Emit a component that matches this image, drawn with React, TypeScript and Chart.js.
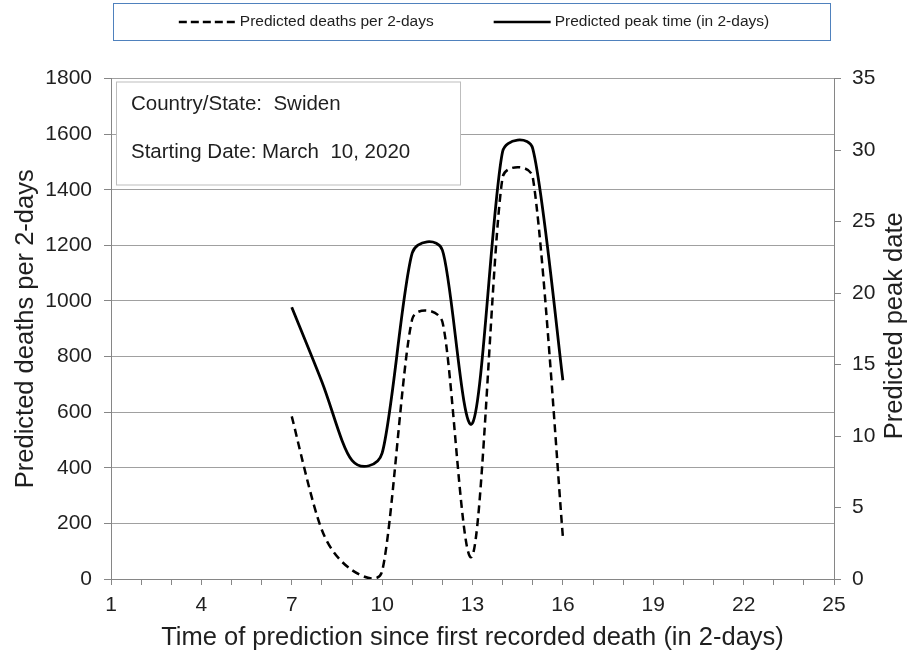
import React, { useEffect, useRef } from 'react';
import { Chart, registerables } from 'chart.js';

Chart.register(...registerables);

// ---- data ----
const xValues = [7, 8, 9, 10, 11, 12, 13, 14, 15, 16];
const predictedDeaths = [585, 176, 32, 28, 935, 925, 85, 1445, 1445, 152];
const predictedPeak = [19.0, 13.8, 8.3, 8.8, 22.8, 23.0, 10.9, 29.9, 30.1, 13.9];
const xTickLabels = [1, 4, 7, 10, 13, 16, 19, 22, 25];
const seriesNames = ['Predicted deaths per 2-days', 'Predicted peak time (in 2-days)'];
const infoLines = ['Country/State:  Swiden', 'Starting Date: March  10, 2020'];
const xTitle = 'Time of prediction since first recorded death (in 2-days)';
const leftTitle = 'Predicted deaths per 2-days';
const rightTitle = 'Predicted peak date';

const FONT = "'Liberation Sans', Arial, sans-serif";
const TEXT = '#1f1f1f';
const GRID = '#a0a0a0';
const AXIS = '#868686';

// Excel-like smoothing: Catmull-Rom tangents, arms capped by own segment length
const smoothPlugin = {
  id: 'excelSmooth',
  afterDatasetsUpdate(chart: any) {
    const CAP = 0.45;
    chart.data.datasets.forEach((_: any, di: number) => {
      const meta = chart.getDatasetMeta(di);
      const pts = meta.data;
      const n = pts.length;
      for (let i = 0; i < n; i++) {
        const cur = pts[i];
        const prev = pts[Math.max(0, i - 1)];
        const next = pts[Math.min(n - 1, i + 1)];
        const tx = (next.x - prev.x) / 6;
        const ty = (next.y - prev.y) / 6;
        const tl = Math.hypot(tx, ty) || 1;
        const ux = tx / tl, uy = ty / tl;
        const dPrev = Math.hypot(cur.x - prev.x, cur.y - prev.y);
        const dNext = Math.hypot(next.x - cur.x, next.y - cur.y);
        const aPrev = Math.min(tl, CAP * dPrev);
        const aNext = Math.min(tl, CAP * dNext);
        cur.cp1x = cur.x - ux * aPrev;
        cur.cp1y = cur.y - uy * aPrev;
        cur.cp2x = cur.x + ux * aNext;
        cur.cp2y = cur.y + uy * aNext;
      }
      if (meta.dataset) meta.dataset._pointsUpdated = true;
    });
  },
};

const decorPlugin = {
  id: 'decor',
  afterDraw(chart: any) {
    const { ctx, chartArea } = chart;
    const { left, right, top, bottom } = chartArea;
    ctx.save();
    // info box
    ctx.fillStyle = '#ffffff';
    ctx.strokeStyle = '#bdbdbd';
    ctx.lineWidth = 1;
    const bx = left + 5.5, by = top + 3.5, bw = 344, bh = 103;
    ctx.fillRect(bx, by, bw, bh);
    ctx.strokeRect(bx, by, bw, bh);
    ctx.fillStyle = TEXT;
    ctx.font = `20.5px ${FONT}`;
    ctx.textAlign = 'left';
    ctx.textBaseline = 'middle';
    ctx.fillText(infoLines[0], left + 20, top + 26);
    ctx.fillText(infoLines[1], left + 20, top + 74);

    // legend box
    const lx = left + 2.5, ly = 3.5, lw = right - left - 6, lh = 37;
    ctx.strokeStyle = '#4f81bd';
    ctx.strokeRect(lx, ly, lw, lh);
    ctx.font = `15.5px ${FONT}`;
    const t1 = ctx.measureText(seriesNames[0]).width;
    const t2 = ctx.measureText(seriesNames[1]).width;
    const sw = 57, gap = 4, itemGap = 60;
    const total = sw + gap + t1 + itemGap + sw + gap + t2;
    let cx = lx + lw / 2 + 2 - total / 2;
    const cy = ly + lh / 2;
    ctx.strokeStyle = '#000';
    ctx.lineWidth = 2.5;
    ctx.setLineDash([8, 4]);
    ctx.beginPath(); ctx.moveTo(cx, cy); ctx.lineTo(cx + sw, cy); ctx.stroke();
    ctx.setLineDash([]);
    ctx.fillStyle = TEXT;
    ctx.textBaseline = 'middle';
    ctx.fillText(seriesNames[0], cx + sw + gap, cy);
    cx += sw + gap + t1 + itemGap;
    ctx.beginPath(); ctx.moveTo(cx, cy); ctx.lineTo(cx + sw, cy); ctx.stroke();
    ctx.fillText(seriesNames[1], cx + sw + gap, cy);

    // axis titles (both rotated -90)
    ctx.font = `25.5px ${FONT}`;
    ctx.textAlign = 'center';
    ctx.textBaseline = 'alphabetic';
    const my = (top + bottom) / 2;
    ctx.save();
    ctx.translate(33, my);
    ctx.rotate(-Math.PI / 2);
    ctx.fillText(leftTitle, 0, 0);
    ctx.restore();
    ctx.save();
    ctx.translate(right + 68, my - 3);
    ctx.rotate(-Math.PI / 2);
    ctx.fillText(rightTitle, 0, 0);
    ctx.restore();
    ctx.restore();
  },
};

export default function App() {
  const ref = useRef<HTMLCanvasElement>(null);
  useEffect(() => {
    if (!ref.current) return;
    const chart = new Chart(ref.current, {
      type: 'line',
      data: {
        datasets: [
          {
            label: seriesNames[0],
            data: xValues.map((x, i) => ({ x, y: predictedDeaths[i] })),
            yAxisID: 'yL',
            borderColor: '#000',
            borderWidth: 2.5,
            borderDash: [8, 5],
            pointRadius: 0,
            tension: 0.4,
            fill: false,
          },
          {
            label: seriesNames[1],
            data: xValues.map((x, i) => ({ x, y: predictedPeak[i] })),
            yAxisID: 'yR',
            borderColor: '#000',
            borderWidth: 2.8,
            pointRadius: 0,
            tension: 0.4,
            fill: false,
          },
        ],
      },
      options: {
        responsive: false,
        animation: false,
        layout: { padding: { top: 78.5, left: 0, right: 0, bottom: 0 } },
        plugins: { legend: { display: false }, tooltip: { enabled: false } },
        scales: {
          x: {
            type: 'linear',
            min: 1,
            max: 25,
            afterFit: (s: any) => { s.height = 76; },
            grid: { drawOnChartArea: false, tickLength: 6, color: AXIS, tickColor: AXIS },
            border: { color: AXIS, width: 1 },
            ticks: {
              stepSize: 1,
              autoSkip: false,
              maxRotation: 0,
              padding: 8,
              color: TEXT,
              font: { family: FONT, size: 21 },
              callback: (v: any) => (xTickLabels.includes(Number(v)) ? String(v) : ''),
            },
            title: {
              display: true,
              text: xTitle,
              color: TEXT,
              font: { family: FONT, size: 25.5 },
              padding: { top: 0, bottom: 1.5 },
            },
          },
          yL: {
            type: 'linear',
            position: 'left',
            min: 0,
            max: 1800,
            afterFit: (s: any) => { s.width = 111; },
            grid: { color: GRID, tickLength: 7, tickColor: AXIS, lineWidth: 1 },
            border: { color: AXIS, width: 1 },
            ticks: {
              stepSize: 200,
              padding: 12,
              color: TEXT,
              font: { family: FONT, size: 21 },
              callback: (v: any) => String(v),
            },
          },
          yR: {
            type: 'linear',
            position: 'right',
            min: 0,
            max: 35,
            afterFit: (s: any) => { s.width = 78; },
            grid: { drawOnChartArea: false, tickLength: 7, tickColor: AXIS },
            border: { color: AXIS, width: 1 },
            ticks: {
              stepSize: 5,
              padding: 11,
              color: TEXT,
              font: { family: FONT, size: 21 },
              callback: (v: any) => String(v),
            },
          },
        },
      },
      plugins: [smoothPlugin, decorPlugin],
    } as any);
    return () => chart.destroy();
  }, []);
  return (
    <div style={{ position: 'absolute', left: 0, top: 0, width: 912, height: 655, background: '#fff' }}>
      <canvas ref={ref} width={912} height={655} style={{ display: 'block' }} />
    </div>
  );
}
